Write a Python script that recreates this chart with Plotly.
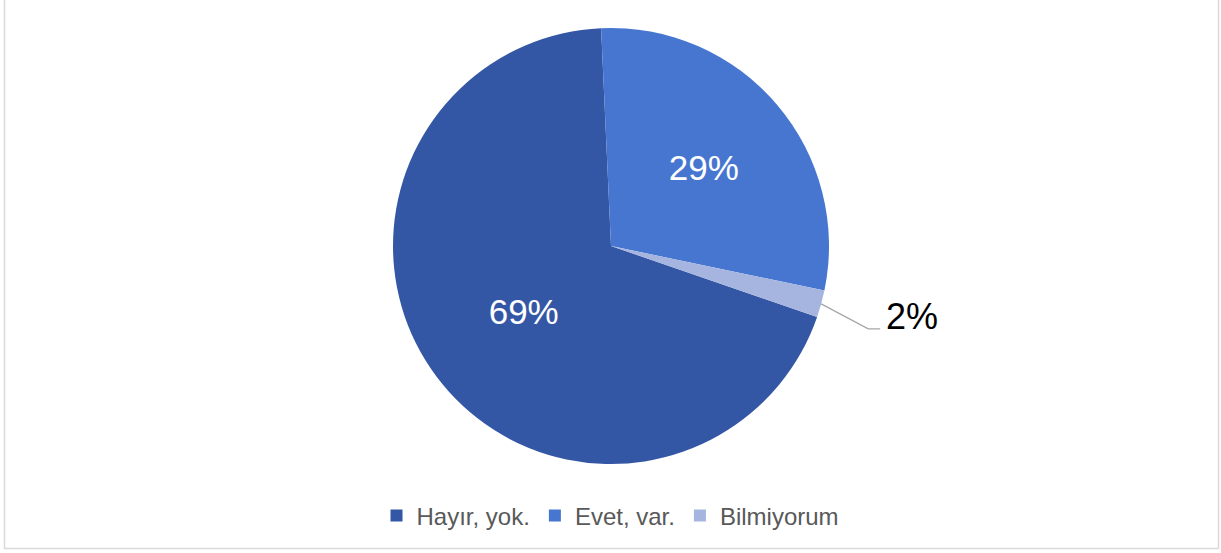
import math
import plotly.graph_objects as go

labels = ["Hayır, yok.", "Evet, var.", "Bilmiyorum"]
values = [69, 29, 2]
colors = ["#3457A5", "#4676CF", "#A5B5E0"]
text_colors = ["white", "white", "black"]
text_positions = ["inside", "inside", "none"]

W, H = 1221, 553
cx, cy, r = 611, 246, 218
ROT = 109
FONT = "Liberation Sans, Arial, sans-serif"

fig = go.Figure(go.Pie(
    labels=labels,
    values=values,
    sort=False,
    direction="clockwise",
    rotation=ROT,
    marker=dict(colors=colors, line=dict(width=0)),
    textinfo="percent",
    texttemplate="%{value}%",
    textposition=text_positions,
    insidetextorientation="horizontal",
    textfont=dict(family=FONT, size=35, color=text_colors),
    domain=dict(x=[(cx - r) / W, (cx + r) / W], y=[(H - cy - r) / H, (H - cy + r) / H]),
    hoverinfo="label+percent",
))

# outside label with leader line for the small slice (angle derived from the data)
total = sum(values)
start = sum(values[:2]) / total * 360
mid = math.radians(ROT + start + values[2] / total * 180)
px = cx + r * math.sin(mid)
py = cy - r * math.cos(mid)
ex, ey = px + 47, py + 25
hx = ex + 12

shapes = [
    dict(type="path", xref="paper", yref="paper",
         path=f"M{px / W},{(H - py) / H} L{ex / W},{(H - ey) / H} L{hx / W},{(H - ey) / H}",
         line=dict(color="#A6A6A6", width=1.3)),
    dict(type="rect", xref="paper", yref="paper",
         x0=4.5 / W, x1=1218.5 / W, y0=(H - 548.5) / H, y1=1.02,
         line=dict(color="#D9D9D9", width=1.5), fillcolor="rgba(0,0,0,0)"),
]

fig.update_layout(
    width=W, height=H,
    margin=dict(l=0, r=0, t=0, b=0),
    paper_bgcolor="white",
    showlegend=True,
    legend=dict(orientation="h", x=0.5, xanchor="center", y=(H - 516) / H, yanchor="middle",
                font=dict(family=FONT, size=24, color="#595959"),
                itemwidth=30),
    shapes=shapes,
    annotations=[dict(xref="paper", yref="paper", x=(hx + 4) / W, y=(H - ey + 12) / H,
                      xanchor="left", yanchor="middle", showarrow=False,
                      text=f"{values[2]}%", font=dict(family=FONT, size=36, color="black"))],
)

fig.write_html("out.html", config={"displayModeBar": False},
               post_script="document.body.style.margin='0px';")
